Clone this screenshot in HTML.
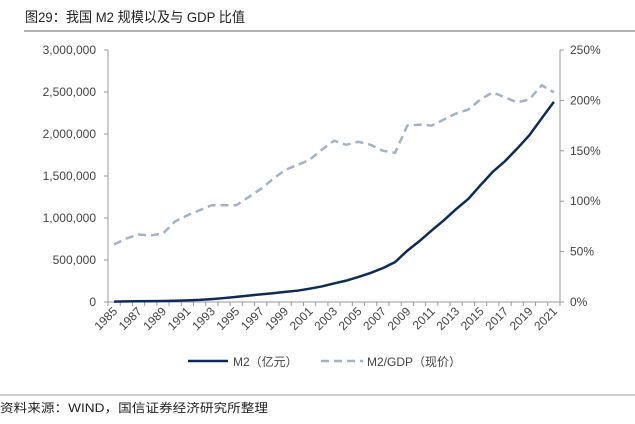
<!DOCTYPE html>
<html><head><meta charset="utf-8"><style>
body{margin:0;background:#fff;width:635px;height:419px;overflow:hidden;font-family:"Liberation Sans","Noto Sans CJK SC",sans-serif}
</style></head><body>
<svg id="c" width="635" height="419" xmlns="http://www.w3.org/2000/svg">
<text x="25" y="22" font-size="14" fill="#222" textLength="220" lengthAdjust="spacingAndGlyphs" font-family="Liberation Sans,Noto Sans CJK SC,sans-serif">图29：我国 M2 规模以及与 GDP 比值</text>
<line x1="24" y1="31" x2="635" y2="31" stroke="#999" stroke-width="1.5"/>
<line x1="0" y1="395" x2="635" y2="395" stroke="#999" stroke-width="1"/>
<text x="0" y="412" font-size="12" fill="#222" textLength="268" lengthAdjust="spacingAndGlyphs" font-family="Liberation Sans,Noto Sans CJK SC,sans-serif">资料来源：WIND，国信证券经济研究所整理</text>
<g id="plot"></g>
</svg>
<script>
const years=[];for(let y=1985;y<=2021;y++)years.push(y);
const m2=[5199,6721,8350,10100,11950,15293,19350,25402,34880,46924,60751,76095,90995,104499,119898,134610,158302,185007,221223,254107,298756,345578,403442,475167,610225,725852,851591,974149,1106525,1228375,1392278,1550067,1676769,1826744,1986489,2186796,2382900];
const ratio=[57,63,67,66,68,80,86,91,96,96,96,104,112,122,131,136,141,151,160,156,159,156,150,148,175,176,175,181,187,191,201,208,203,198,201,215,208];
const leftTicks=[0,500000,1000000,1500000,2000000,2500000,3000000];
const rightTicks=[0,50,100,150,200,250];
const NS='http://www.w3.org/2000/svg';
const g=document.getElementById('plot');
const X0=108,X1=560,Y0=302,Y1=50;
const step=(X1-X0)/years.length;
const xs=i=>X0+step*(i+0.5);
const yl=v=>Y0-(v/3000000)*(Y0-Y1);
const yr=v=>Y0-(v/250)*(Y0-Y1);
function mk(t,a,txt){const e=document.createElementNS(NS,t);for(const k in a)e.setAttribute(k,a[k]);if(txt!=null)e.textContent=txt;g.appendChild(e);return e;}
let e;
e=mk('line',{x1:X0,y1:Y1,x2:X0,y2:Y0,stroke:'#999'});


e=mk('line',{x1:X1,y1:Y1,x2:X1,y2:Y0,stroke:'#999'});


e=mk('line',{x1:X0,y1:Y0,x2:X1,y2:Y0,stroke:'#999'});


leftTicks.forEach(v=>{const y=yl(v);
mk('line',{x1:X0-4,y1:y,x2:X0,y2:y,stroke:'#999'});
e=mk('text',{x:X0-12,y:y+4,'font-size':12,fill:'#444','text-anchor':'end'},v.toLocaleString('en-US'));

});
rightTicks.forEach(v=>{const y=yr(v);
mk('line',{x1:X1,y1:y,x2:X1+4,y2:y,stroke:'#999'});
e=mk('text',{x:X1+10,y:y+4,'font-size':12,fill:'#444'},v+'%');

});
for(let i=0;i<=years.length;i++){const x=X0+step*i;mk('line',{x1:x,y1:Y0,x2:x,y2:Y0+4,stroke:'#999'});}
years.forEach((yv,i)=>{if(i%2)return;const x=xs(i)+4,y=Y0+10;
e=mk('text',{x:x,y:y,'font-size':12,fill:'#444','text-anchor':'end',transform:`rotate(-45 ${x} ${y})`},yv);

});
e=mk('polyline',{points:ratio.map((v,i)=>xs(i)+','+yr(v)).join(' '),fill:'none',stroke:'#a3b3c6','stroke-width':2.5,'stroke-dasharray':'8,5'});


e=mk('polyline',{points:m2.map((v,i)=>xs(i)+','+yl(v)).join(' '),fill:'none',stroke:'#0d2b5a','stroke-width':2.5});


e=mk('line',{x1:188,y1:361,x2:228,y2:361,stroke:'#0d2b5a','stroke-width':2.5});


e=mk('text',{x:233,y:366,'font-size':12,fill:'#444'},'M2（亿元）');


e=mk('line',{x1:321,y1:361,x2:363,y2:361,stroke:'#a3b3c6','stroke-width':2.5,'stroke-dasharray':'8,5'});


e=mk('text',{x:367,y:366,'font-size':12,fill:'#444'},'M2/GDP（现价）');


</script>
</body></html>
